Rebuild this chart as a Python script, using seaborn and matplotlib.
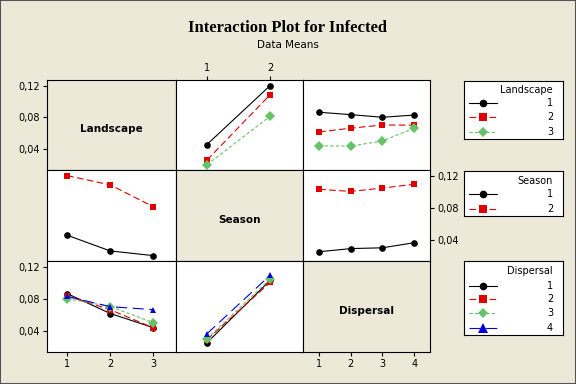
import numpy as np
import pandas as pd
import matplotlib.pyplot as plt
import seaborn as sns
from matplotlib.lines import Line2D
from matplotlib.patches import Rectangle
from matplotlib.ticker import FuncFormatter

# factor levels
landscape_levels = ['1', '2', '3']
season_levels = ['1', '2']
dispersal_levels = ['1', '2', '3', '4']

# mean infected, Landscape (rows) x Season (cols)
landscape_season = [[0.0460, 0.1200],
                    [0.0265, 0.1085],
                    [0.0207, 0.0815]]
# mean infected, Landscape (rows) x Dispersal (cols)
landscape_dispersal = [[0.0865, 0.0835, 0.0802, 0.0830],
                       [0.0618, 0.0665, 0.0705, 0.0703],
                       [0.0443, 0.0441, 0.0505, 0.0666]]
# mean infected, Season (rows) x Dispersal (cols)
season_dispersal = [[0.0255, 0.0294, 0.0304, 0.0367],
                    [0.1030, 0.1004, 0.1046, 0.1093]]

y_ticks = [0.04, 0.08, 0.12]

BG = '#ECE9D8'
colors = ['#000000', '#E00000', '#66C266', '#0000DD']
marker_list = ['o', 's', 'D', '^']
dash_list = ['', (6, 3), (3, 2), (10, 5)]
marker_sizes = [4.5, 4.5, 4.0, 5.5]


def long_table(values, row_name, row_levels, col_name, col_levels):
    rows = []
    for i, r in enumerate(row_levels):
        for j, c in enumerate(col_levels):
            rows.append({row_name: r, col_name: c, 'mean': values[i][j]})
    return pd.DataFrame(rows)


tables = {
    ('Landscape', 'Season'): long_table(landscape_season, 'Landscape', landscape_levels, 'Season', season_levels),
    ('Landscape', 'Dispersal'): long_table(landscape_dispersal, 'Landscape', landscape_levels, 'Dispersal', dispersal_levels),
    ('Season', 'Dispersal'): long_table(season_dispersal, 'Season', season_levels, 'Dispersal', dispersal_levels),
}


def get_table(hue, x):
    # hue column stays text, x column becomes numeric
    key = (hue, x) if (hue, x) in tables else (x, hue)
    df = tables[key].copy()
    df[x] = df[x].astype(int)
    df[hue] = df[hue].astype(str)
    return df


factors = ['Landscape', 'Season', 'Dispersal']
levels = {'Landscape': landscape_levels, 'Season': season_levels, 'Dispersal': dispersal_levels}
xlims = {'Landscape': (0.53, 3.53), 'Season': (0.51, 2.52), 'Dispersal': (0.49, 4.5)}
ylim = (0.014, 0.127)

plt.rcParams['font.family'] = ['DejaVu Sans']
fig = plt.figure(figsize=(5.76, 3.84), dpi=100)
fig.patch.set_facecolor(BG)
W, H = 576, 384


def box(x0, y0, x1, y1):
    return [x0 / W, 1 - y1 / H, (x1 - x0) / W, (y1 - y0) / H]


xs = [47, 176, 303, 430]
ys = [80, 170, 261, 352]
fmt = FuncFormatter(lambda v, p: f'{v:.2f}'.replace('.', ','))

for r, hue in enumerate(factors):
    for c, xf in enumerate(factors):
        ax = fig.add_axes(box(xs[c], ys[r], xs[c + 1], ys[r + 1]))
        if r == c:
            ax.set_facecolor(BG)
            ax.text(0.5, 0.45, hue, transform=ax.transAxes, ha='center', va='center',
                    fontsize=7.5, fontweight='bold')
        else:
            ax.set_facecolor('white')
            df = get_table(hue, xf)
            lv = levels[hue]
            sns.lineplot(data=df, x=xf, y='mean', hue=hue, style=hue,
                         hue_order=lv, style_order=lv,
                         palette=dict(zip(lv, colors)),
                         markers=dict(zip(lv, marker_list)),
                         dashes=dict(zip(lv, dash_list)),
                         errorbar=None, legend=False, linewidth=0.8,
                         markersize=4.8, markeredgewidth=0, ax=ax)
        ax.set_xlim(*xlims[xf])
        ax.set_ylim(*ylim)
        ax.set_xticks(range(1, len(levels[xf]) + 1))
        ax.set_yticks(y_ticks)
        ax.yaxis.set_major_formatter(fmt)
        ax.tick_params(left=False, bottom=False, labelleft=False, labelbottom=False,
                       labelsize=7, length=3, width=0.8, pad=2, direction='out')
        for s in ax.spines.values():
            s.set_linewidth(0.8)
        ax.set_xlabel('')
        ax.set_ylabel('')
        # axis positions like the original layout
        if c == 0 and r in (0, 2):
            ax.tick_params(left=True, labelleft=True)
        if r == 1 and c == 2:
            ax.yaxis.tick_right()
            ax.tick_params(right=True, labelright=True, left=False, labelleft=False)
        if r == 0 and c == 1:
            ax.xaxis.tick_top()
            ax.tick_params(top=True, labeltop=True, bottom=False, labelbottom=False)
        if r == 2 and c in (0, 2):
            ax.tick_params(bottom=True, labelbottom=True)

# legends on the right
legend_boxes = {
    'Landscape': (464, 81, 563, 139, 90, [103, 117, 132]),
    'Season': (464, 171, 563, 216, 181, [194, 209]),
    'Dispersal': (464, 261, 563, 335, 271, [286, 299, 313, 328]),
}
for name, (x0, y0, x1, y1, ty, eys) in legend_boxes.items():
    lax = fig.add_axes(box(x0, y0, x1, y1))
    lax.set_xlim(x0, x1)
    lax.set_ylim(y1, y0)
    lax.set_xticks([])
    lax.set_yticks([])
    lax.set_facecolor('white')
    for s in lax.spines.values():
        s.set_linewidth(0.8)
    lax.text(553, ty, name, ha='right', va='center', fontsize=7)
    for i, (lev, ey) in enumerate(zip(levels[name], eys)):
        ln = Line2D([469, 497], [ey, ey], color=colors[i], linewidth=0.8)
        if dash_list[i]:
            ln.set_dashes(dash_list[i])
        lax.add_line(ln)
        lax.plot([483], [ey], marker=marker_list[i], color=colors[i],
                 markersize=marker_sizes[i] + 1, markeredgewidth=0)
        lax.text(553, ey, lev, ha='right', va='center', fontsize=7)

fig.text(0.5, 1 - 28 / H, 'Interaction Plot for Infected', ha='center', va='center',
         family='Liberation Serif', fontweight='bold', fontsize=12)
fig.text(0.5, 1 - 45 / H, 'Data Means', ha='center', va='center', fontsize=7.5)

fig.patches.append(Rectangle((0, 0), 1, 1, transform=fig.transFigure, fill=False,
                             edgecolor='#555555', linewidth=1.5, figure=fig))

fig.savefig('out.png', dpi=100, facecolor=BG)
